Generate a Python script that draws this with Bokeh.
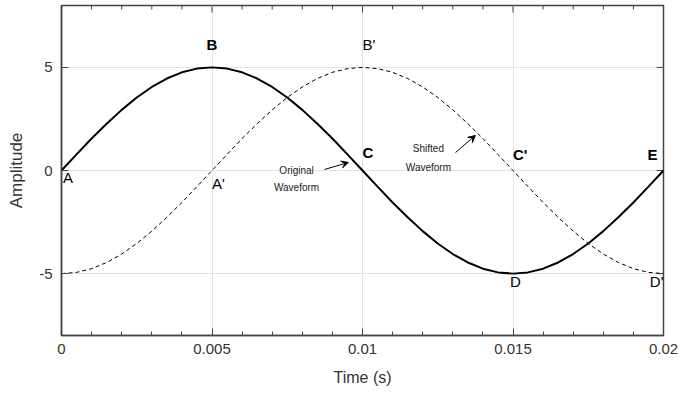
from bokeh.plotting import figure
from bokeh.models import (Range1d, FixedTicker, Arrow, VeeHead,
                          ColumnDataSource, Label)
from bokeh.core.properties import value
from bokeh.embed import file_html
from bokeh.resources import INLINE

# ---- data ----
time_s = [0.0, 0.0005, 0.001, 0.0015, 0.002, 0.0025, 0.003, 0.0035, 0.004, 0.0045,
          0.005, 0.0055, 0.006, 0.0065, 0.007, 0.0075, 0.008, 0.0085, 0.009, 0.0095,
          0.01, 0.0105, 0.011, 0.0115, 0.012, 0.0125, 0.013, 0.0135, 0.014, 0.0145,
          0.015, 0.0155, 0.016, 0.0165, 0.017, 0.0175, 0.018, 0.0185, 0.019, 0.0195, 0.02]
original = [0, 0.78, 1.55, 2.27, 2.94, 3.54, 4.05, 4.46, 4.76, 4.94,
            5, 4.94, 4.76, 4.46, 4.05, 3.54, 2.94, 2.27, 1.55, 0.78,
            0, -0.78, -1.55, -2.27, -2.94, -3.54, -4.05, -4.46, -4.76, -4.94,
            -5, -4.94, -4.76, -4.46, -4.05, -3.54, -2.94, -2.27, -1.55, -0.78, 0]
shifted = [-5, -4.94, -4.76, -4.46, -4.05, -3.54, -2.94, -2.27, -1.55, -0.78,
           0, 0.78, 1.55, 2.27, 2.94, 3.54, 4.05, 4.46, 4.76, 4.94,
           5, 4.94, 4.76, 4.46, 4.05, 3.54, 2.94, 2.27, 1.55, 0.78,
           0, -0.78, -1.55, -2.27, -2.94, -3.54, -4.05, -4.46, -4.76, -4.94, -5]

x_ticks = [0, 0.005, 0.01, 0.015, 0.02]
x_tick_labels = ["0", "0.005", "0.01", "0.015", "0.02"]
y_ticks = [-5, 0, 5]
y_tick_labels = ["-5", "0", "5"]
x_minor = [0.001, 0.002, 0.003, 0.004, 0.006, 0.007, 0.008, 0.009,
           0.011, 0.012, 0.013, 0.014, 0.016, 0.017, 0.018, 0.019]

bold_labels = ["B", "C", "C'", "E"]
bold_x = [0.005, 0.01, 0.015, 0.0198]
bold_y = [6.1, 0.87, 0.8, 0.8]
bold_align = ["center", "left", "left", "right"]

norm_labels = ["A", "A'", "B'", "D", "D'"]
norm_x = [0.00005, 0.005, 0.01, 0.01508, 0.02]
norm_y = [-0.34, -0.63, 6.1, -5.39, -5.39]
norm_align = ["left", "left", "left", "center", "right"]

FONT = "Liberation Sans"
AX = "#444444"
X0, X1, Y0, Y1 = 0, 0.02, -8, 8

p = figure(width=685, height=394, output_backend="svg", toolbar_location=None,
           x_range=Range1d(X0, X1), y_range=Range1d(Y0, Y1),
           min_border_left=61, min_border_right=22, min_border_top=5, min_border_bottom=59)
p.outline_line_color = AX
p.outline_line_width = 1.5
p.background_fill_color = "white"
p.border_fill_color = "white"

# grid
p.xgrid.ticker = FixedTicker(ticks=x_ticks)
p.ygrid.ticker = FixedTicker(ticks=y_ticks)
p.grid.grid_line_color = "#e3e3e3"
p.grid.grid_line_width = 1

xa = p.xaxis[0]
xa.ticker = FixedTicker(ticks=x_ticks, minor_ticks=x_minor)
xa.major_label_overrides = {t: l for t, l in zip(x_ticks, x_tick_labels)}
xa.axis_label = "Time (s)"
ya = p.yaxis[0]
ya.ticker = FixedTicker(ticks=y_ticks)
ya.major_label_overrides = {t: l for t, l in zip(y_ticks, y_tick_labels)}
ya.axis_label = "Amplitude"
for ax in (xa, ya):
    ax.axis_line_color = AX
    ax.axis_line_width = 1.5
    ax.major_tick_line_color = AX
    ax.minor_tick_line_color = AX
    ax.major_tick_in = 7
    ax.major_tick_out = 0
    ax.minor_tick_in = 4
    ax.minor_tick_out = 0
    ax.major_label_text_font = FONT
    ax.major_label_text_font_size = "15px"
    ax.major_label_text_color = "#333333"
    ax.axis_label_text_font = FONT
    ax.axis_label_text_font_size = "16px"
    ax.axis_label_text_font_style = "normal"
    ax.axis_label_text_color = "#333333"
ya.axis_label_text_font_size = "17px"
ya.minor_tick_line_color = None
xa.major_label_standoff = 8
ya.major_label_standoff = 9
xa.axis_label_standoff = 12
ya.axis_label_standoff = 10

# mirrored inward ticks on top and right edges (lengths are styling only)
tick_major_y = (Y1 - Y0) * 7 / 330
tick_minor_y = (Y1 - Y0) * 4 / 330
tick_major_x = (X1 - X0) * 7 / 602
p.segment(x0=x_ticks, y0=[Y1] * len(x_ticks), x1=x_ticks,
          y1=[Y1 - tick_major_y] * len(x_ticks), line_color=AX, line_width=1)
p.segment(x0=x_minor, y0=[Y1] * len(x_minor), x1=x_minor,
          y1=[Y1 - tick_minor_y] * len(x_minor), line_color=AX, line_width=1)
p.segment(x0=[X1] * len(y_ticks), y0=y_ticks, x1=[X1 - tick_major_x] * len(y_ticks),
          y1=y_ticks, line_color=AX, line_width=1)

# curves
p.line(time_s, shifted, line_color="black", line_width=1, line_dash="4 3")
p.line(time_s, original, line_color="black", line_width=2)

# point labels
bsrc = ColumnDataSource(dict(x=bold_x, y=bold_y, t=bold_labels, a=bold_align))
p.text(x="x", y="y", text="t", text_align="a", text_baseline="middle",
       text_font=value(FONT), text_font_size="15px", text_font_style="bold",
       text_color="black", source=bsrc)
nsrc = ColumnDataSource(dict(x=norm_x, y=norm_y, t=norm_labels, a=norm_align))
p.text(x="x", y="y", text="t", text_align="a", text_baseline="middle",
       text_font=value(FONT), text_font_size="15px", text_font_style="normal",
       text_color="black", source=nsrc)

# annotations with arrows
for txt, x, y in [("Original", 0.00781, 0.0), ("Waveform", 0.00781, -0.83),
                  ("Shifted", 0.01219, 1.07), ("Waveform", 0.01219, 0.15)]:
    p.add_layout(Label(x=x, y=y, text=txt, text_font=FONT, text_font_size="10px",
                       text_align="center", text_baseline="middle",
                       text_color="#222222"))

p.add_layout(Arrow(x_start=0.00874, y_start=0.05, x_end=0.00953, y_end=0.39,
                   line_color="black", line_width=1,
                   end=VeeHead(size=7, fill_color="black", line_color="black")))
p.add_layout(Arrow(x_start=0.01309, y_start=0.87, x_end=0.01375, y_end=1.70,
                   line_color="black", line_width=1,
                   end=VeeHead(size=7, fill_color="black", line_color="black")))

open("out.html", "w").write(file_html(p, INLINE))
